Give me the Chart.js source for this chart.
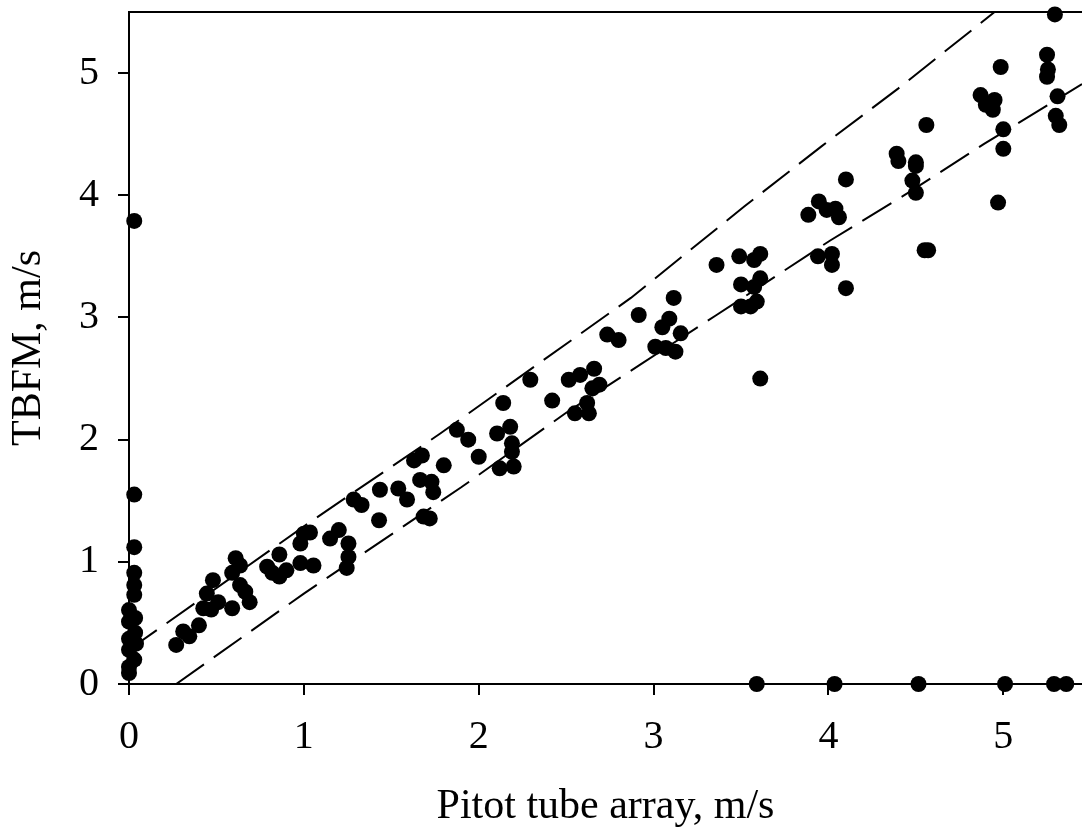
<!DOCTYPE html>
<html lang="en">
<head>
  <meta charset="UTF-8">
  <title>TBFM vs Pitot tube array</title>
  <script src="https://cdn.jsdelivr.net/npm/chart.js@4.4.4/dist/chart.umd.min.js"></script>
  <style>
    body { margin: 0; background: #fff; }
    #wrap { width: 1082px; height: 835px; position: relative; }
  </style>
</head>
<body>
  <div id="wrap"><canvas id="scatterChart"></canvas></div>

  <script>
    // Pitot tube array speed (x) vs TBFM speed (y), m/s
    const pitotX = [
      0.03, 0.03, 0.03, 0.03, 0.03, 0.03, 0.0, 0.035, 0.0, 0.035, 0.0, 0.04, 0.0, 0.03, 0.0, 0.0,
      0.27, 0.31, 0.345, 0.40, 0.425, 0.47, 0.445, 0.48, 0.51, 0.59, 0.59, 0.61, 0.635, 0.635, 0.665, 0.69,
      0.79, 0.82, 0.86, 0.86, 0.90, 0.98, 1.055, 0.98, 1.0, 1.035, 1.15, 1.2, 1.255, 1.255, 1.245,
      1.285, 1.33, 1.435, 1.43, 1.54, 1.59, 1.63, 1.675, 1.665, 1.73, 1.74, 1.685, 1.72, 1.80, 1.875,
      1.94, 2.0, 2.105, 2.14, 2.18, 2.19, 2.19, 2.12, 2.2, 2.295, 2.42, 2.515, 2.58, 2.66, 2.69, 2.65,
      2.62, 2.55, 2.63, 2.735, 2.80, 2.915, 3.01, 3.05, 3.09, 3.115, 3.155, 3.07, 3.125,
      3.36, 3.49, 3.575, 3.61, 3.50, 3.575, 3.61, 3.50, 3.555, 3.59, 3.61,
      3.885, 3.945, 3.99, 4.04, 4.06, 3.94, 4.02, 4.02, 4.10, 4.10,
      4.39, 4.40, 4.50, 4.50, 4.48, 4.50, 4.56, 4.55, 4.57,
      4.87, 4.90, 4.95, 4.94, 4.985, 4.97, 5.0, 5.0,
      5.295, 5.25, 5.255, 5.25, 5.31, 5.30, 5.32,
      3.59, 4.035, 4.515, 5.01, 5.29, 5.36
    ];
    const tbfmY = [
      3.79, 1.55, 1.12, 0.91, 0.81, 0.73, 0.605, 0.54, 0.51, 0.42, 0.37, 0.33, 0.28, 0.20, 0.14, 0.09,
      0.32, 0.43, 0.39, 0.48, 0.62, 0.61, 0.74, 0.85, 0.67, 0.62, 0.91, 1.03, 0.97, 0.81, 0.755, 0.67,
      0.96, 0.91, 0.88, 1.06, 0.93, 0.99, 0.97, 1.15, 1.23, 1.24, 1.19, 1.26, 1.15, 1.04, 0.95,
      1.51, 1.465, 1.59, 1.34, 1.60, 1.51, 1.83, 1.87, 1.67, 1.655, 1.57, 1.37, 1.355, 1.79, 2.08,
      2.0, 1.86, 2.05, 2.30, 2.105, 1.97, 1.90, 1.765, 1.78, 2.49, 2.32, 2.49, 2.53, 2.58, 2.45, 2.42,
      2.30, 2.215, 2.215, 2.86, 2.815, 3.02, 2.76, 2.92, 2.99, 3.16, 2.87, 2.75, 2.72,
      3.43, 3.50, 3.47, 3.52, 3.27, 3.25, 3.32, 3.09, 3.09, 3.13, 2.50,
      3.84, 3.95, 3.88, 3.89, 3.82, 3.50, 3.43, 3.52, 3.24, 4.13,
      4.34, 4.28, 4.27, 4.24, 4.12, 4.02, 4.575, 3.55, 3.55,
      4.82, 4.74, 4.78, 4.70, 5.05, 3.94, 4.38, 4.54,
      5.48, 5.15, 5.03, 4.97, 4.81, 4.65, 4.575,
      0, 0, 0, 0, 0, 0
    ];

    // dashed band lines
    const upperBandX = [0, 1.04, 1.78, 2.87, 3.52, 3.96, 4.40, 4.95];
    const upperBandY = [0.28, 1.33, 2.05, 3.16, 3.91, 4.40, 4.875, 5.5];
    const lowerBandX = [0.27, 1.0, 1.9, 2.5, 2.93, 3.36, 4.01, 4.45, 4.89, 5.45];
    const lowerBandY = [0, 0.74, 1.61, 2.22, 2.62, 3.02, 3.63, 4.015, 4.42, 4.91];

    const xMax = 5.45;
    const yMax = 5.5;

    const toPoints = (xs, ys) => xs.map((x, i) => ({ x: x, y: ys[i] }));

    Chart.defaults.font.family = "'Liberation Serif', 'Times New Roman', serif";
    Chart.defaults.color = '#000';

    // top frame line
    const frameTop = {
      id: 'frameTop',
      afterDraw(chart) {
        const { ctx, chartArea } = chart;
        ctx.save();
        ctx.strokeStyle = '#000';
        ctx.lineWidth = 2;
        ctx.beginPath();
        ctx.moveTo(chartArea.left, chartArea.top);
        ctx.lineTo(chartArea.right, chartArea.top);
        ctx.stroke();
        ctx.restore();
      }
    };

    const onlyWholeTicks = (scale) => {
      scale.ticks = scale.ticks.filter(t => Number.isInteger(t.value));
    };

    const bandStyle = {
      type: 'line',
      borderColor: '#000',
      borderWidth: 2,
      borderDash: [34, 12],
      pointRadius: 0,
      fill: false,
      tension: 0
    };

    new Chart(document.getElementById('scatterChart'), {
      type: 'scatter',
      data: {
        datasets: [
          {
            label: 'Measurements',
            data: toPoints(pitotX, tbfmY),
            backgroundColor: '#000',
            borderWidth: 0,
            pointRadius: 8,
            clip: false
          },
          Object.assign({ label: 'Upper band', data: toPoints(upperBandX, upperBandY) }, bandStyle),
          Object.assign({ label: 'Lower band', data: toPoints(lowerBandX, lowerBandY) }, bandStyle)
        ]
      },
      options: {
        responsive: true,
        maintainAspectRatio: false,
        animation: false,
        layout: { autoPadding: false, padding: { top: 12, right: 0, left: 0, bottom: 0 } },
        plugins: {
          legend: { display: false },
          tooltip: { enabled: false }
        },
        scales: {
          x: {
            type: 'linear',
            min: 0,
            max: xMax,
            afterBuildTicks: onlyWholeTicks,
            afterFit(scale) {
              scale.height = 151;
              scale.paddingLeft = 0;
              scale.paddingRight = 0;
            },
            ticks: { stepSize: 1, includeBounds: false, padding: 18, font: { size: 40 }, maxRotation: 0, autoSkip: false },
            grid: { drawOnChartArea: false, drawTicks: true, tickLength: 11, color: '#000', lineWidth: 2 },
            border: { display: true, color: '#000', width: 2 },
            title: { display: true, text: 'Pitot tube array, m/s', font: { size: 42 }, padding: { top: 0, bottom: 3 } }
          },
          y: {
            type: 'linear',
            min: 0,
            max: yMax,
            afterBuildTicks: onlyWholeTicks,
            afterFit(scale) {
              scale.width = 129;
              scale.paddingTop = 0;
              scale.paddingBottom = 0;
            },
            ticks: { stepSize: 1, includeBounds: false, padding: 19, font: { size: 40 }, autoSkip: false },
            grid: { drawOnChartArea: false, drawTicks: true, tickLength: 11, color: '#000', lineWidth: 2 },
            border: { display: true, color: '#000', width: 2 },
            title: { display: true, text: 'TBFM, m/s', font: { size: 42 }, padding: { top: 4, bottom: 0 } }
          }
        }
      },
      plugins: [frameTop]
    });
  </script>
</body>
</html>
